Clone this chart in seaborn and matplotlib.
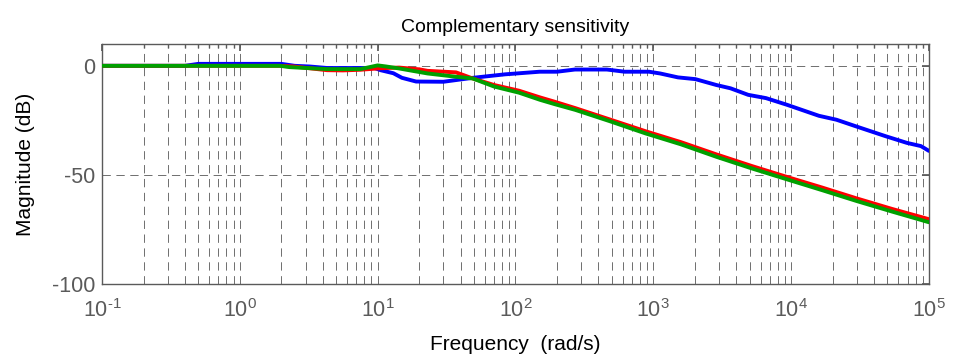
import numpy as np
import pandas as pd
import matplotlib
matplotlib.use("Agg")
import matplotlib.pyplot as plt
import matplotlib.ticker as mticker
import seaborn as sns

# ---- data ----
blue_f = [0.1, 0.4, 0.5, 2.0, 2.5, 3.2, 4.3, 9.5, 10.5, 13, 15, 19, 30, 49, 84, 150, 200, 270,
          460, 620, 930, 1120, 1510, 2020, 2870, 3630, 4880, 6570, 9370, 15900, 21300, 30400,
          48700, 69000, 87500, 100000]
blue_db = [0, 0, 0.9, 0.9, 0, -0.3, -1.0, -1.0, -2.0, -3.4, -5.5, -7.2, -7.3, -5.5, -3.9, -2.7,
           -2.7, -1.7, -1.7, -2.7, -2.7, -3.5, -5.3, -6.1, -8.8, -10.3, -13.3, -14.8, -17.9,
           -22.9, -24.7, -28.0, -32.3, -35.3, -36.8, -39.0]

red_f = [0.1, 1.96, 2.45, 4.3, 5.6, 7.5, 10.5, 14.3, 20, 23, 37, 49, 70, 106, 151, 191, 272,
         490, 880, 1590, 2870, 5170, 9300, 16800, 30000, 54000, 100000]
red_db = [0, 0, -0.3, -2.0, -2.1, -1.8, -1.1, -0.8, -1.6, -2.3, -3.0, -5.8, -8.8, -11.4, -14.5,
          -16.4, -19.4, -24.7, -30.0, -35.0, -40.6, -45.9, -50.9, -55.8, -60.8, -65.6, -70.3]

green_f = [0.1, 1.96, 2.3, 4.3, 7.5, 10, 11.5, 14.3, 23, 37, 49, 70, 106, 151, 191, 272, 490,
           880, 1590, 2870, 5170, 9300, 16800, 30000, 54000, 100000]
green_db = [0, 0, -0.6, -1.5, -1.5, 0.2, -0.3, -1.2, -3.5, -5.0, -5.8, -9.5, -12.3, -15.6,
            -17.5, -20.2, -25.5, -31.0, -36.0, -41.7, -47.0, -52.0, -57.0, -62.0, -66.8, -71.7]

series_names = ["blue", "red", "green"]
series_colors = ["#0000ff", "#ff0000", "#00a000"]

title_text = "Complementary sensitivity"
xlabel_text = "Frequency  (rad/s)"
ylabel_text = "Magnitude (dB)"
yticks = [0, -50, -100]
xtick_exps = [-1, 0, 1, 2, 3, 4, 5]

# ---- style ----
sns.set_theme(style="white")
plt.rcParams["font.family"] = ["Liberation Sans", "DejaVu Sans"]
plt.rcParams["mathtext.fontset"] = "custom"
plt.rcParams["mathtext.rm"] = "Liberation Sans"
plt.rcParams["mathtext.it"] = "Liberation Sans"
plt.rcParams["axes.unicode_minus"] = False
plt.rcParams["lines.scale_dashes"] = False

df = pd.concat([
    pd.DataFrame({"f": blue_f, "db": blue_db, "s": "blue"}),
    pd.DataFrame({"f": red_f, "db": red_db, "s": "red"}),
    pd.DataFrame({"f": green_f, "db": green_db, "s": "green"}),
], ignore_index=True)

fig = plt.figure(figsize=(9.57, 3.61), dpi=100)
ax = fig.add_axes([0.1066, 0.2133, 0.8641, 0.6648])
ax.set_xscale("log")

grid_kw = dict(color="#3a3a3a", linewidth=0.6, linestyle=(0, (6, 4)), alpha=0.85)

sns.lineplot(data=df, x="f", y="db", hue="s", hue_order=series_names,
             palette=series_colors, estimator=None, sort=False, linewidth=2.8,
             legend=False, ax=ax, zorder=3)

ax.set_xlim(0.1, 1e5)
ax.set_ylim(-100, 10)


def exp_label(e):
    if e < 0:
        return r"$\mathregular{10^{\text{-}%d}}$" % (-e)
    return r"$\mathregular{10^{%d}}$" % e


ax.set_xticks([10.0 ** e for e in xtick_exps])
ax.set_xticklabels([exp_label(e) for e in xtick_exps])
ax.xaxis.set_minor_locator(mticker.LogLocator(base=10, subs=np.arange(2, 10), numticks=100))
ax.xaxis.set_minor_formatter(mticker.NullFormatter())
ax.set_yticks(yticks)
ax.set_yticklabels([str(v) for v in yticks])

ax.grid(True, which="major", axis="both", **grid_kw)
ax.grid(True, which="minor", axis="x", **grid_kw)
ax.set_axisbelow(True)

gray = "#5a5a5a"
for sp in ax.spines.values():
    sp.set_color(gray)
    sp.set_linewidth(1.0)
ax.tick_params(axis="both", which="both", direction="in", colors=gray,
               labelcolor=gray, labelsize=15.5, top=True, right=True)
ax.tick_params(which="major", length=5)
ax.tick_params(which="minor", length=3)
ax.tick_params(axis="x", pad=11)
ax.tick_params(axis="y", pad=5)

ax.set_title(title_text, fontsize=14, color="black", pad=9)
ax.set_xlabel(xlabel_text, fontsize=15, color="black", labelpad=9)
ax.set_ylabel(ylabel_text, fontsize=15, color="black", labelpad=12)

fig.savefig("out.png", dpi=100)
